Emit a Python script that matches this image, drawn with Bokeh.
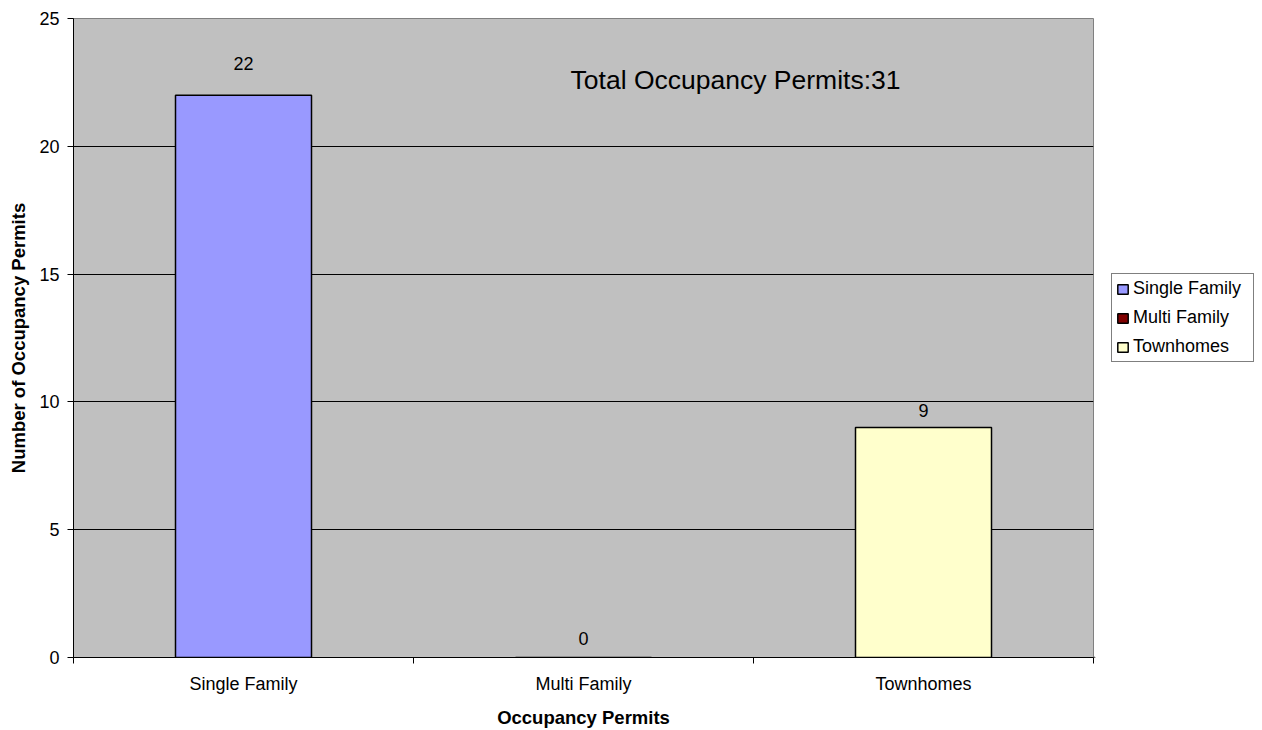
from bokeh.plotting import figure
from bokeh.layouts import row
from bokeh.models import (Range1d, FixedTicker, Legend, LegendItem, Label,
                          ColumnDataSource)
from bokeh.core.properties import value
from bokeh.embed import file_html
from bokeh.resources import INLINE

categories = ["Single Family", "Multi Family", "Townhomes"]
values = [22, 0, 9]
colors = ["#9999FF", "#800000", "#FFFFCC"]
y_ticks = [0, 5, 10, 15, 20, 25]
label_offsets = [-32, -19, -17]

FONT = "Liberation Sans"
xs = [i + 0.5 for i in range(len(categories))]

p = figure(width=1094, height=730, output_backend="svg", toolbar_location=None,
           x_range=Range1d(0, len(categories)), y_range=Range1d(0, 25),
           min_border_left=73, min_border_right=1, min_border_top=18,
           min_border_bottom=70)
p.background_fill_color = "#C0C0C0"
p.border_fill_color = "white"
p.outline_line_color = "#808080"
p.outline_line_width = 1

src = ColumnDataSource(dict(x=xs, top=values, color=colors, name=categories,
                            lbl=[str(v) for v in values], off=label_offsets))
bars = p.vbar(x="x", top="top", width=0.4, bottom=0, fill_color="color",
              line_color="black", line_width=1.5, source=src)
p.text(x="x", y="top", text="lbl", y_offset="off", source=src,
       text_align="center", text_baseline="middle", text_font=value(FONT),
       text_font_size="18px", text_color="black")

# Axes
p.xaxis.ticker = FixedTicker(ticks=xs, minor_ticks=list(range(len(categories) + 1)))
p.xaxis.major_label_overrides = {x: c for x, c in zip(xs, categories)}
p.xaxis.major_tick_out = 0
p.xaxis.major_tick_in = 0
p.xaxis.minor_tick_out = 6
p.xaxis.minor_tick_in = 0
p.xaxis.major_label_standoff = 10
p.xaxis.axis_label = "Occupancy Permits"

p.yaxis.ticker = FixedTicker(ticks=y_ticks)
p.yaxis.major_tick_out = 6
p.yaxis.major_tick_in = 0
p.yaxis.minor_tick_out = 0
p.yaxis.minor_tick_in = 0
p.yaxis.major_label_standoff = 8
p.yaxis.axis_label = "Number of Occupancy Permits"

for ax in (p.xaxis, p.yaxis):
    ax.axis_line_color = "black"
    ax.major_tick_line_color = "black"
    ax.minor_tick_line_color = "black"
    ax.major_label_text_font = FONT
    ax.major_label_text_font_size = "18px"
    ax.major_label_text_color = "black"
    ax.axis_label_text_font = FONT
    ax.axis_label_text_font_size = "18.5px"
    ax.axis_label_text_font_style = "bold"
    ax.axis_label_text_color = "black"
p.xaxis.axis_label_standoff = 10
p.yaxis.axis_label_standoff = 7

p.xgrid.visible = False
p.ygrid.ticker = FixedTicker(ticks=y_ticks[1:-1])
p.ygrid.grid_line_color = "black"
p.ygrid.grid_line_width = 1

# Annotation text
p.add_layout(Label(x=1.462, y=22.6, text=f"Total Occupancy Permits:{sum(values)}",
                   text_font=FONT, text_font_size="26.5px", text_baseline="middle",
                   text_color="black"))

# Legend panel (separate figure to the right of the chart)
lg = figure(width=168, height=730, output_backend="svg", toolbar_location=None,
            x_range=Range1d(100, 101), y_range=Range1d(100, 101),
            x_axis_location=None, y_axis_location=None, min_border=0)
lg.grid.visible = False
lg.outline_line_color = None
lg.background_fill_color = "white"
lg.border_fill_color = "white"
lbars = lg.vbar(x="x", top="top", width=0.4, bottom=0, fill_color="color",
                line_color="black", line_width=1.5, source=src)
items = [LegendItem(label=c, renderers=[lbars], index=i) for i, c in enumerate(categories)]
legend = Legend(items=items, location=(17, 295), orientation="vertical",
                label_text_font=FONT, label_text_font_size="18px",
                label_text_color="black",
                glyph_width=13, glyph_height=12, label_standoff=4,
                label_height=20, label_width=116, spacing=8, padding=4, margin=0,
                border_line_color="black", border_line_width=1,
                background_fill_color="white", background_fill_alpha=1)
lg.add_layout(legend, "center")

open("out.html", "w").write(file_html(row(p, lg), INLINE))
